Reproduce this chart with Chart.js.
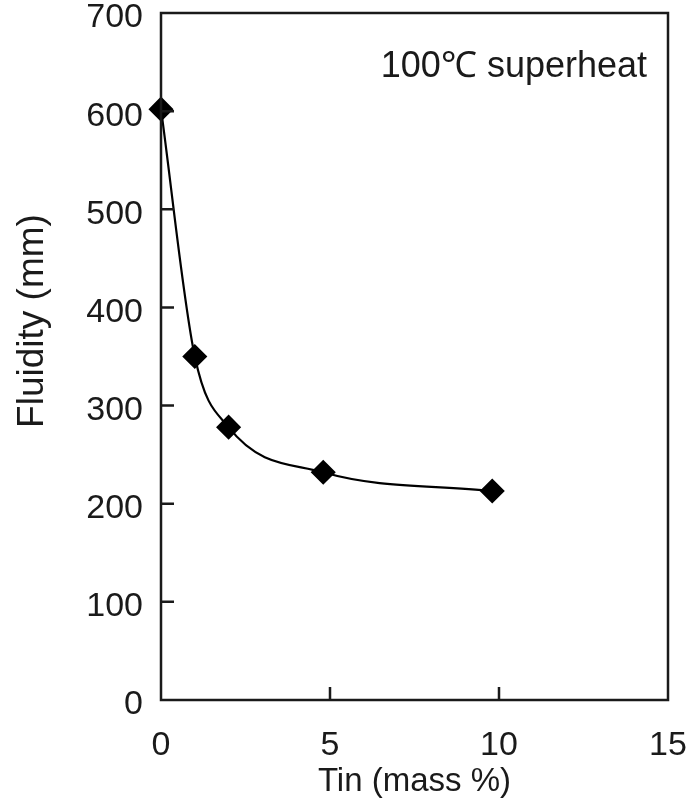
<!DOCTYPE html>
<html lang="en">
  <head>
    <meta charset="UTF-8" />
    <title>Fluidity vs Tin</title>
    <script src="https://cdn.jsdelivr.net/npm/chart.js"></script>
    <style>
      html, body { margin: 0; padding: 0; background: #fff; }
      #wrap { width: 700px; height: 806px; }
    </style>
  </head>
  <body>
    <div id="wrap"><canvas id="fluidityChart" width="700" height="806"></canvas></div>
    <script>
      // values
      const tinPct = [0, 1, 2, 4.8, 9.8];
      const fluidity = [602, 350, 278, 232, 213];
      const xTicks = [0, 5, 10, 15];
      const yTicks = [0, 100, 200, 300, 400, 500, 600, 700];
      const note = "100\u2103 superheat";
      const yTitle = "Fluidity (mm)";

      const FONT = "'Liberation Sans', Arial, sans-serif";
      const INK = "#1a1a1a";

      // box frame + inward tick marks + note text + y title
      const frame = {
        id: "frame",
        afterDraw(chart) {
          const { ctx, chartArea: a, scales } = chart;
          ctx.save();
          ctx.strokeStyle = INK;
          ctx.lineWidth = 2.5;
          ctx.strokeRect(a.left, a.top, a.right - a.left, a.bottom - a.top);
          ctx.beginPath();
          scales.y.ticks.forEach((t) => {
            if (t.value <= 0 || t.value >= 700) return;
            const py = scales.y.getPixelForValue(t.value);
            ctx.moveTo(a.left, py);
            ctx.lineTo(a.left + 13, py);
          });
          scales.x.ticks.forEach((t) => {
            if (t.value <= 0 || t.value >= 15) return;
            const px = scales.x.getPixelForValue(t.value);
            ctx.moveTo(px, a.bottom);
            ctx.lineTo(px, a.bottom - 13);
          });
          ctx.stroke();
          ctx.fillStyle = INK;
          ctx.font = "36px " + FONT;
          ctx.textAlign = "right";
          ctx.textBaseline = "middle";
          ctx.fillText(note, a.right - 21, a.top + 54);
          // y axis title, sits a bit above the middle in the original
          ctx.translate(33, 321);
          ctx.rotate(-Math.PI / 2);
          ctx.textAlign = "center";
          ctx.font = "37px " + FONT;
          ctx.fillText(yTitle, 0, 0);
          ctx.restore();
        },
      };

      const ctx = document.getElementById("fluidityChart").getContext("2d");
      new Chart(ctx, {
        type: "line",
        data: {
          datasets: [
            {
              data: tinPct.map((x, i) => ({ x: x, y: fluidity[i] })),
              borderColor: "#000",
              borderWidth: 2.2,
              backgroundColor: "#000",
              pointStyle: "rectRot",
              pointRadius: 11,
              pointHoverRadius: 11,
              cubicInterpolationMode: "monotone",
              clip: false,
              fill: false,
            },
          ],
        },
        options: {
          responsive: false,
          animation: false,
          layout: { autoPadding: false, padding: { top: 13, right: 32, left: 0, bottom: 0 } },
          plugins: { legend: { display: false }, tooltip: { enabled: false } },
          scales: {
            x: {
              type: "linear",
              min: 0,
              max: 15,
              afterBuildTicks: (s) => { s.ticks = xTicks.map((v) => ({ value: v })); },
              afterFit: (s) => {
                s.height = 106;
                s.paddingLeft = 0;
                s.paddingRight = 0;
              },
              grid: { display: false, drawTicks: false },
              border: { display: false },
              ticks: { font: { family: FONT, size: 34 }, color: INK, padding: 25, maxRotation: 0 },
              title: {
                display: true,
                text: "Tin (mass %)",
                font: { family: FONT, size: 33 },
                color: INK,
                padding: { top: 0, bottom: 4 },
              },
            },
            y: {
              min: 0,
              max: 700,
              afterBuildTicks: (s) => { s.ticks = yTicks.map((v) => ({ value: v })); },
              afterFit: (s) => {
                s.width = 161;
                s.paddingTop = 0;
                s.paddingBottom = 0;
              },
              grid: { display: false, drawTicks: false },
              border: { display: false },
              ticks: { font: { family: FONT, size: 34 }, color: INK, padding: 18, labelOffset: 5 },
              title: { display: false },
            },
          },
        },
        plugins: [frame],
      });
    </script>
  </body>
</html>
